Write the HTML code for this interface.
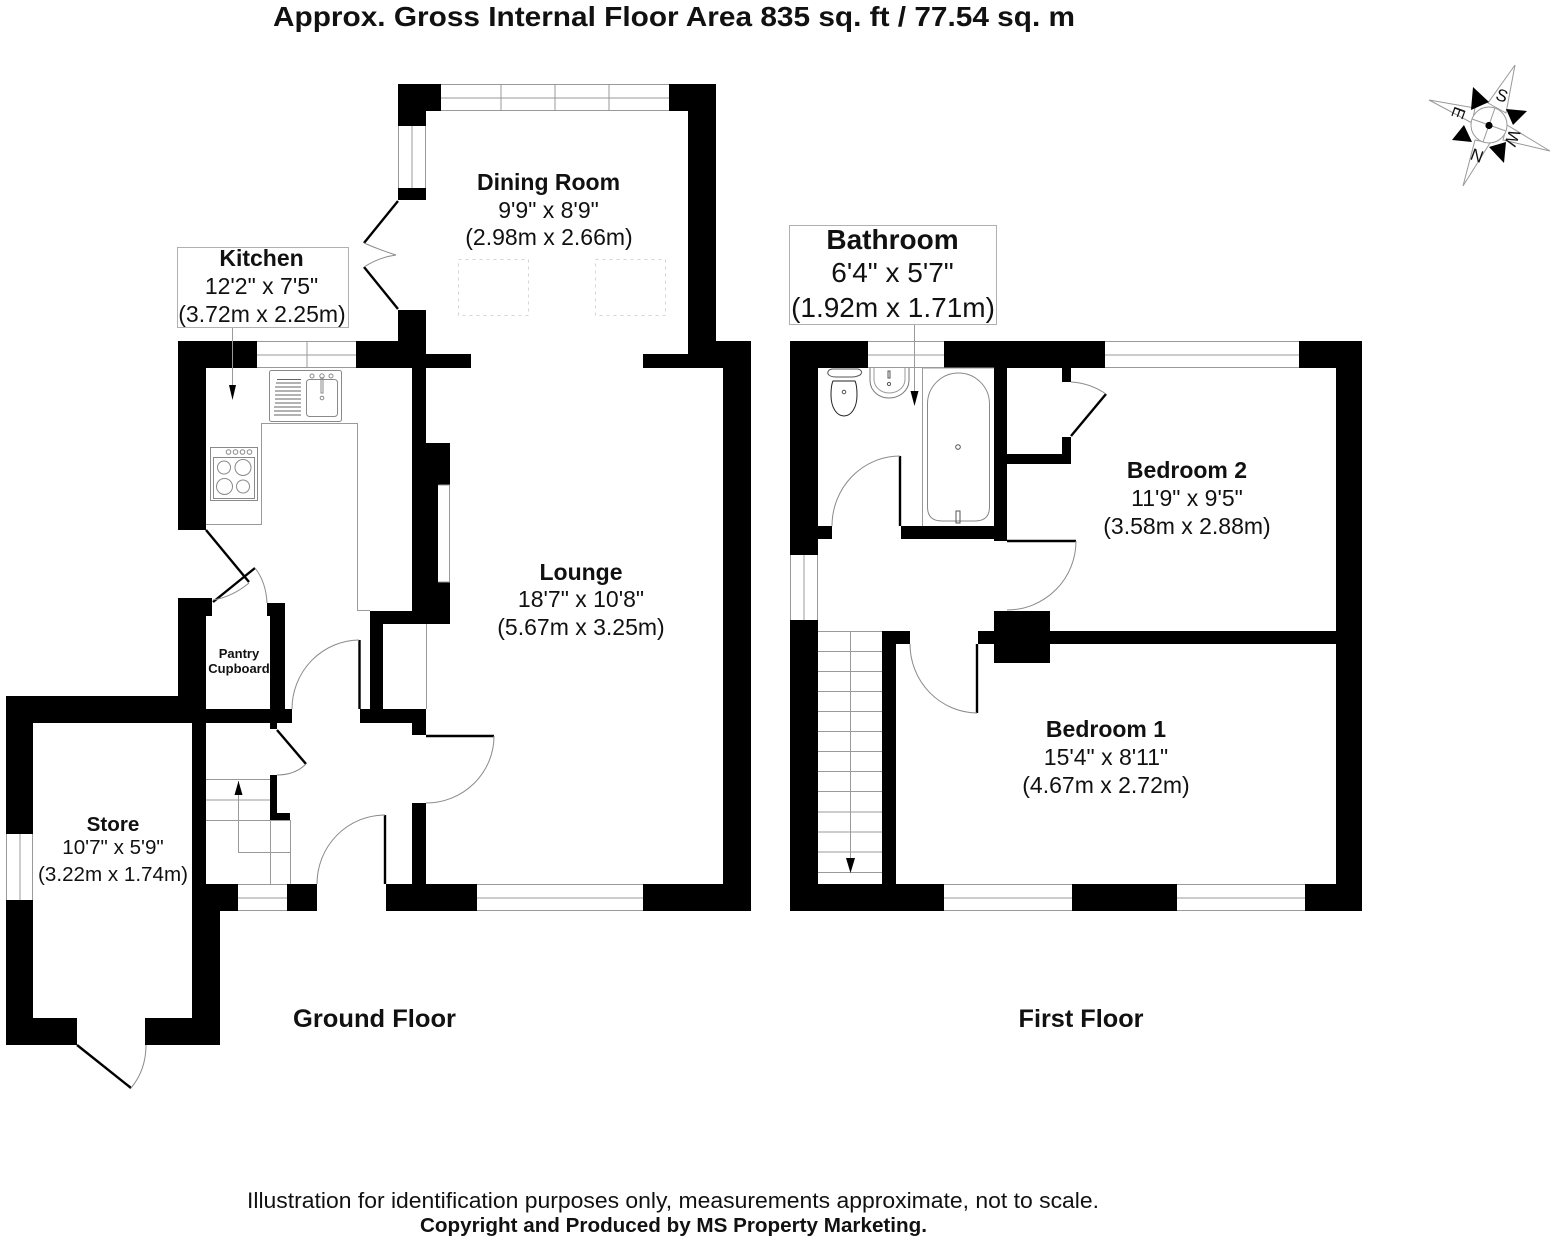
<!DOCTYPE html>
<html><head><meta charset="utf-8"><style>
html,body{margin:0;padding:0;background:#fff}
svg{display:block}
text{font-family:"Liberation Sans",sans-serif;fill:#111;text-anchor:middle}
.b{font-weight:bold}
.n{font-size:23px}
.s{font-size:20.6px}
.g{fill:none;stroke:#9a9a9a;stroke-width:1}
.d{fill:none;stroke:#000;stroke-width:2.4}
.a{fill:none;stroke:#8a8a8a;stroke-width:1}
</style></head><body>
<svg width="1554" height="1240" viewBox="0 0 1554 1240" xmlns="http://www.w3.org/2000/svg">
<rect width="1554" height="1240" fill="#fff"/>

<!-- GROUND FLOOR WALLS -->
<g fill="#000">
<rect x="398" y="84" width="43" height="27"/><rect x="398" y="84" width="28" height="42"/>
<rect x="398" y="188" width="28" height="12"/>
<rect x="398" y="310" width="28" height="58"/>
<rect x="669" y="84" width="47" height="27"/><rect x="688" y="84" width="28" height="271"/>
<rect x="426" y="354" width="45" height="14"/>
<rect x="643" y="354" width="108" height="14"/><rect x="716" y="341" width="35" height="27"/>
<rect x="723" y="341" width="28" height="570"/>
<rect x="178" y="341" width="79" height="27"/><rect x="178" y="341" width="28" height="189"/>
<rect x="356" y="341" width="70" height="27"/>
<rect x="412" y="354" width="14" height="270"/>
<rect x="426" y="443" width="24" height="42"/><rect x="426" y="443" width="12" height="181"/>
<rect x="426" y="582" width="24" height="42"/>
<rect x="370" y="611" width="80" height="13"/><rect x="370" y="611" width="13" height="112"/>
<rect x="360" y="709" width="66" height="14"/><rect x="412" y="709" width="14" height="26"/>
<rect x="412" y="803" width="14" height="108"/>
<rect x="386" y="884" width="91" height="27"/><rect x="643" y="884" width="108" height="27"/>
<rect x="287" y="884" width="30" height="27"/><rect x="192" y="884" width="46" height="27"/>
<rect x="178" y="598" width="28" height="125"/><rect x="206" y="598" width="6" height="18"/>
<rect x="270" y="603" width="15" height="120"/><rect x="267" y="603" width="4" height="13"/>
<rect x="170" y="709" width="122" height="14"/><rect x="270" y="723" width="7" height="6"/>
<rect x="6" y="696" width="186" height="27"/>
<rect x="6" y="696" width="27" height="138"/><rect x="6" y="900" width="27" height="145"/>
<rect x="6" y="1018" width="71" height="27"/><rect x="145" y="1018" width="75" height="27"/>
<rect x="192" y="709" width="14" height="202"/><rect x="192" y="884" width="28" height="161"/>
<rect x="270" y="775" width="7" height="45"/><rect x="270" y="813" width="20" height="7"/>
</g>

<!-- GROUND FLOOR WINDOWS / LINES -->
<g class="g">
<path d="M441 84.500H669M441 98H669M441 110.500H669M501 84V111M555 84V111M609 84V111"/>
<path d="M398.500 126V188M412 126V188M425.500 126V188"/>
<path d="M257 341.500H356M257 355H356M257 367.500H356M307 341V368"/>
<path d="M438.500 485H450M438.500 582H450M449.500 485V582"/>
<path d="M477 884.500H643M477 898H643M477 910.500H643"/>
<path d="M238 884.500H287M238 898H287M238 910.500H287"/>
<path d="M6.500 834V900M20 834V900M32.500 834V900"/>
<path d="M426.500 624V709"/>
<path d="M206 779.500H270M206 800H270M206 820.500H290M270.500 820V884M290.500 820V884M238.500 781V852.500H290"/>
<path d="M206 524.500H261.500V423.500H357.500V610.500H370"/>
<path d="M232.500 327V390"/>
</g>
<path d="M232.500 400L229 385H236Z" fill="#000"/>
<path d="M238.500 781L234.500 795H242.500Z" fill="#000"/>

<!-- Dormers -->
<g fill="none" stroke="#d4d4d4" stroke-width="1" stroke-dasharray="3 4">
<rect x="458.500" y="259.500" width="70" height="56"/>
<rect x="595.500" y="259.500" width="70" height="56"/>
</g>

<!-- Ground floor doors -->
<g class="d">
<path d="M398 201L364 243M364 267L398 309"/>
<path d="M206 530L249 582M213 602L255 568"/>
<path d="M359.500 640V709"/>
<path d="M426 736H494"/>
<path d="M385 815V884"/>
<path d="M277 730L306 764"/>
<path d="M77 1045L131 1088"/>
</g>
<g class="a">
<path d="M364 243Q380 250 396 255Q380 257 364 267"/>
<path d="M255 568Q266 582 267 603"/>
<path d="M213 600Q232 597 249 583"/>
<path d="M359 640A68 69 0 0 0 292 709"/>
<path d="M494 736A68 67 0 0 1 426 803"/>
<path d="M385 815A68 69 0 0 0 317 884"/>
<path d="M306 764Q295 775 277 775"/>
<path d="M131 1088Q146 1070 146 1045"/>
</g>

<!-- Sink -->
<g class="a">
<rect x="269.500" y="370.500" width="72" height="51" rx="2"/>
<rect x="306.500" y="379.500" width="31" height="37" rx="3"/>
<path d="M277 379.500H301M276 383H301M275 387H301M275 391H301M275 395H301M275 399H301M275 403H301M274 407H301M274 411H301M274 415H301" stroke="#666"/>
<circle cx="312" cy="376" r="2"/><circle cx="322" cy="376" r="2.200"/><circle cx="331" cy="376" r="2"/>
<circle cx="322" cy="398" r="1.800"/>
<path d="M321 377V393H323V377"/>
</g>
<!-- Hob -->
<g class="a">
<rect x="210.500" y="447.500" width="47" height="53"/>
<rect x="213.500" y="457.500" width="41" height="41"/>
<circle cx="228.500" cy="452" r="2.300"/><circle cx="235.500" cy="452" r="2.300"/><circle cx="242.500" cy="452" r="2.300"/><circle cx="249.500" cy="452" r="2.300"/>
<circle cx="224" cy="467.500" r="6.500"/><circle cx="243" cy="467.500" r="8"/>
<circle cx="224.500" cy="486.500" r="8"/><circle cx="243" cy="486.500" r="6.500"/>
</g>

<!-- Kitchen label box -->
<rect x="177.500" y="247.500" width="171" height="80" fill="#fff" stroke="#b0b0b0"/>

<!-- FIRST FLOOR WALLS -->
<g fill="#000">
<rect x="790" y="341" width="78" height="27"/><rect x="790" y="341" width="28" height="214"/>
<rect x="944" y="341" width="161" height="27"/>
<rect x="1299" y="341" width="63" height="27"/><rect x="1336" y="341" width="26" height="570"/>
<rect x="994" y="368" width="13" height="173"/>
<rect x="901" y="526" width="106" height="13"/>
<rect x="818" y="526" width="14" height="13"/>
<rect x="1062" y="368" width="9" height="14"/>
<rect x="1062" y="437" width="9" height="27"/><rect x="1007" y="454" width="64" height="10"/>
<rect x="994" y="611" width="56" height="52"/>
<rect x="978" y="631" width="358" height="13"/>
<rect x="790" y="620" width="28" height="291"/>
<rect x="882" y="631" width="14" height="260"/><rect x="882" y="631" width="28" height="13"/>
<rect x="790" y="884" width="154" height="27"/>
<rect x="1072" y="884" width="105" height="27"/><rect x="1305" y="884" width="57" height="27"/>
</g>
<g class="g">
<path d="M868 341.500H944M868 355H944M868 367.500H944"/>
<path d="M1105 341.500H1299M1105 355H1299M1105 367.500H1299"/>
<path d="M790.500 555V620M804 555V620M817.500 555V620"/>
<path d="M944 884.500H1072M944 898H1072M944 910.500H1072"/>
<path d="M1177 884.500H1305M1177 898H1305M1177 910.500H1305"/>
<path d="M818 631.500H882M818 651.500H882M818 671.500H882M818 691.500H882M818 711.500H882M818 731.500H882M818 751.500H882M818 771.500H882M818 791.500H882M818 812H882M818 832H882M818 852H882M818 872.500H882"/>
<path d="M850.500 631V860"/>
<path d="M922.500 368V526M922 368H994"/>
<path d="M914.500 324V395"/>
</g>
<path d="M850.500 873L846 858H855Z" fill="#000"/>
<path d="M914.500 406L910.500 391H918.500Z" fill="#000"/>

<!-- First floor doors -->
<g class="d">
<path d="M900 456V526"/>
<path d="M1071 436L1106 394"/>
<path d="M1007 541H1076"/>
<path d="M977 644V713"/>
</g>
<g class="a">
<path d="M900 456A68 70 0 0 0 832 526"/>
<path d="M1106 394Q1090 383 1071 382"/>
<path d="M1076 541A69 69 0 0 1 1007 610"/>
<path d="M910 644A68 69 0 0 0 977 713"/>
</g>

<!-- Bathroom fittings -->
<g fill="none" stroke="#555" stroke-width="1">
<path d="M832 369H858Q864 371 860 375Q856 377 852 377H836Q830 377 828 374Q827 370 832 369Z"/>
<path d="M833 381H855Q857 385 857 395C857 408 851 416 844 416C837 416 831 408 831 395Q831 385 833 381Z" stroke="#222"/>
<circle cx="844" cy="392" r="1.800"/>
<path d="M870 368V380C870 392 880 398 889 398C898 398 909 392 909 380V368" stroke="#777"/>
<path d="M874 368V379C874 388 882 393 889 393C897 393 905 388 905 379V368" stroke="#999"/>
<circle cx="889" cy="384" r="1.600"/><path d="M888 371H890V378H888Z"/>
<path d="M927.500 404A31 31 0 0 1 989.500 404V507Q989.500 521 975 521H942Q927.500 521 927.500 507Z" stroke="#888"/>
<circle cx="958" cy="447" r="2.300"/>
<path d="M956 511H960V523H956Z"/>
</g>

<!-- Bathroom label box -->
<rect x="789.500" y="225.500" width="207" height="99" fill="#fff" stroke="#b0b0b0"/>

<!-- COMPASS -->
<g>
<path d="M1515 65L1488 103L1506 113Z M1550 151L1507 125L1503 140Z M1463 186L1475 140L1490 143Z M1429 100L1475 108L1472 123Z" fill="#fff" stroke="#999" stroke-width="1"/>
<path d="M1473 87L1489 102L1471 110Z M1527 111L1506 109L1513 125Z M1504 163L1489 147L1506 142Z M1452 140L1464 125L1472 142Z" fill="#000"/>
<circle cx="1489" cy="125" r="18" fill="#fff" stroke="#999"/>
<path d="M1495 108L1483 142M1472 119L1506 131" stroke="#999" fill="none"/>
<circle cx="1489" cy="125.500" r="3.600" fill="#000"/>
<text transform="translate(1500 101) rotate(20)" font-size="17">S</text>
<text transform="translate(1453 111) rotate(110)" font-size="17">E</text>
<text transform="translate(1479 150) rotate(200)" font-size="17">N</text>
<text transform="translate(1507 136) rotate(110)" font-size="17">W</text>
</g>

<!-- TEXT -->
<text x="674" y="26" class="b" font-size="28" textLength="802" lengthAdjust="spacingAndGlyphs">Approx. Gross Internal Floor Area 835 sq. ft / 77.54 sq. m</text>

<text x="548.500" y="190" class="b n">Dining Room</text>
<text x="548.500" y="218" class="n">9'9" x 8'9"</text>
<text x="549" y="245" class="n">(2.98m x 2.66m)</text>

<text x="261.500" y="266" class="b n">Kitchen</text>
<text x="261.500" y="294" class="n">12'2" x 7'5"</text>
<text x="262" y="322" class="n">(3.72m x 2.25m)</text>

<text x="581" y="580" class="b n">Lounge</text>
<text x="581" y="607" class="n">18'7" x 10'8"</text>
<text x="581" y="635" class="n">(5.67m x 3.25m)</text>

<text x="113" y="831" class="b s">Store</text>
<text x="113" y="854" class="s">10'7" x 5'9"</text>
<text x="113" y="881" class="s">(3.22m x 1.74m)</text>

<text x="239" y="658" class="b" font-size="13">Pantry</text>
<text x="239" y="673" class="b" font-size="13">Cupboard</text>

<text x="892.500" y="249" class="b" font-size="28">Bathroom</text>
<text x="892.500" y="282" font-size="28">6'4" x 5'7"</text>
<text x="893" y="317" font-size="28">(1.92m x 1.71m)</text>

<text x="1187" y="478" class="b n">Bedroom 2</text>
<text x="1187" y="506" class="n">11'9" x 9'5"</text>
<text x="1187" y="534" class="n">(3.58m x 2.88m)</text>

<text x="1106" y="737" class="b n">Bedroom 1</text>
<text x="1106" y="765" class="n">15'4" x 8'11"</text>
<text x="1106" y="793" class="n">(4.67m x 2.72m)</text>

<text x="374.500" y="1027" class="b" font-size="25" textLength="163" lengthAdjust="spacingAndGlyphs">Ground Floor</text>
<text x="1081" y="1027" class="b" font-size="25" textLength="125" lengthAdjust="spacingAndGlyphs">First Floor</text>

<text x="673" y="1208" font-size="22" textLength="852" lengthAdjust="spacingAndGlyphs">Illustration for identification purposes only, measurements approximate, not to scale.</text>
<text x="673.500" y="1232" class="b" font-size="20" textLength="507" lengthAdjust="spacingAndGlyphs">Copyright and Produced by MS Property Marketing.</text>
</svg>
</body></html>
